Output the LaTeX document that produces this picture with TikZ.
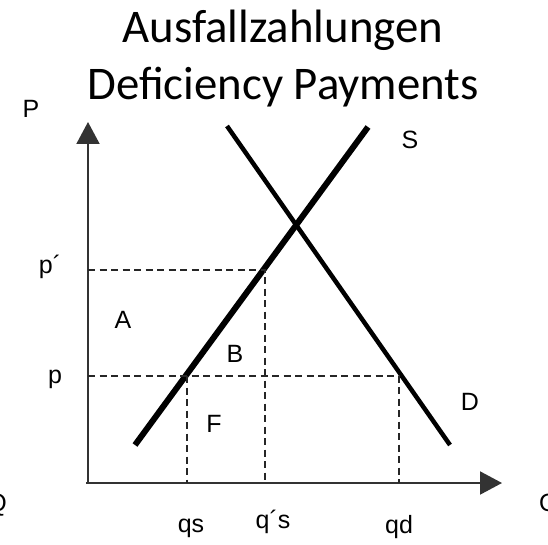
\documentclass[tikz,border=0pt]{standalone}
\usepackage{fontspec}
\setmainfont{Liberation Sans}
\newfontfamily\titlefont{Carlito}
\usetikzlibrary{arrows.meta}

\begin{document}
\begin{tikzpicture}[x=1pt, y=-1pt,
  axis/.style={line width=2pt, draw=black!80, -{Triangle[length=22pt, width=23pt]}},
  guide/.style={line width=1.3pt, draw=black!85, dash pattern=on 7pt off 4.5pt},
  title/.style={font=\titlefont\fontsize{46.8}{56}\selectfont, anchor=base, inner sep=0pt},
  lbl/.style={font=\fontsize{25}{30}\selectfont, anchor=base, inner sep=0pt}]
\useasboundingbox (0,0) rectangle (548,545);
\node[title] (title1) at (283,43) {Ausfallzahlungen};
\node[title] (title2) at (283,100) {Deficiency Payments};
% axes
\coordinate (O) at (86,483);
\coordinate (ytop) at (88,122);
\coordinate (xend) at (502,483);
\draw[axis] (88,483) -- (ytop);
\draw[axis] (O) -- (xend);
% supply and demand
\coordinate (s0) at (135,445); \coordinate (s1) at (368,127);
\coordinate (d0) at (227,126); \coordinate (d1) at (450,445);
\draw[line width=6pt] (s0) -- (s1);
\draw[line width=4.5pt] (d0) -- (d1);
% price levels
\coordinate (pp) at (88,270); \coordinate (qsp) at (265,270); \coordinate (qspb) at (265,483);
\coordinate (p) at (88,376); \coordinate (qd) at (399,376); \coordinate (qdb) at (399,483);
\coordinate (qs) at (187,376); \coordinate (qsb) at (187,483);
\draw[guide] (pp) -- (qsp) -- (qspb);
\draw[guide] (p) -- (qd) -- (qdb);
\draw[guide] (qs) -- (qsb);
% labels
\foreach \x/\y/\l/\n in {31/118/P/lP, 410/149/S/lS, 470/410/D/lD, 50/273/p´/lpp, 55/383/p/lp,
  123/328/A/lA, 235/362/B/lB, 214/432/F/lF, 191/532/qs/lqs, 273/528/q´s/lqsp, 399/533/qd/lqd}
  \node[lbl] (\n) at (\x,\y) {\l};
\node[lbl, anchor=base east] (lQa) at (7,511) {Q};
\node[lbl, anchor=base west] (lQb) at (539,511) {Q};
\end{tikzpicture}
\end{document}
